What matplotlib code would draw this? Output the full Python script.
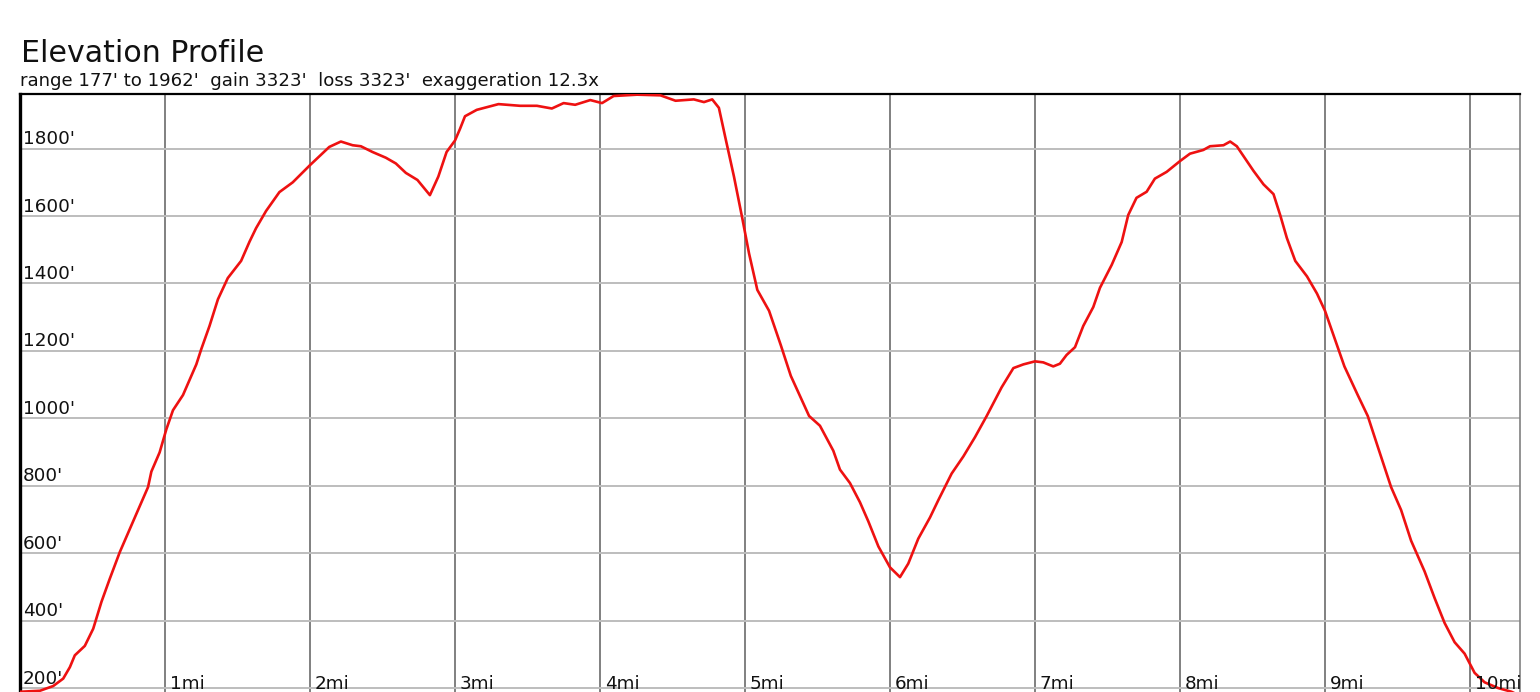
import matplotlib
matplotlib.use("Agg")
import matplotlib.pyplot as plt

# ---- data ----
miles = [0.0, 0.138, 0.229, 0.298, 0.344, 0.378, 0.447, 0.505, 0.562, 0.619,
         0.688, 0.757, 0.803, 0.883, 0.906, 0.963, 1.009, 1.055, 1.124, 1.216,
         1.250, 1.307, 1.365, 1.433, 1.525, 1.583, 1.628, 1.697, 1.789, 1.881,
         2.0, 2.133, 2.213, 2.294, 2.351, 2.431, 2.523, 2.592, 2.661, 2.741,
         2.827, 2.885, 2.942, 3.0, 3.035, 3.069, 3.150, 3.300, 3.449, 3.565,
         3.668, 3.749, 3.829, 3.933, 4.014, 4.094, 4.256, 4.417, 4.521, 4.647,
         4.717, 4.774, 4.820, 4.866, 4.924, 4.982, 5.028, 5.085, 5.166, 5.247,
         5.316, 5.442, 5.517, 5.609, 5.655, 5.724, 5.793, 5.851, 5.920, 6.0,
         6.069, 6.126, 6.195, 6.276, 6.333, 6.425, 6.506, 6.586, 6.667, 6.770,
         6.851, 6.920, 7.0, 7.057, 7.126, 7.172, 7.218, 7.276, 7.333, 7.402,
         7.448, 7.529, 7.598, 7.643, 7.700, 7.770, 7.827, 7.908, 8.0, 8.069,
         8.161, 8.207, 8.300, 8.346, 8.392, 8.507, 8.576, 8.645, 8.691, 8.737,
         8.795, 8.876, 8.945, 9.0, 9.065, 9.134, 9.226, 9.295, 9.364, 9.456,
         9.525, 9.594, 9.687, 9.756, 9.825, 9.894, 9.963, 10.032, 10.101, 10.194,
         10.286, 10.345]

elevation_ft = [189, 192, 206, 228, 262, 297, 325, 376, 456, 524,
                603, 671, 717, 796, 842, 899, 967, 1024, 1069, 1160,
                1205, 1274, 1353, 1416, 1467, 1524, 1564, 1615, 1671, 1700,
                1751, 1805, 1821, 1810, 1807, 1790, 1773, 1756, 1728, 1707,
                1662, 1717, 1790, 1824, 1859, 1896, 1915, 1932, 1927, 1927,
                1919, 1935, 1930, 1944, 1935, 1956, 1960, 1958, 1942, 1946,
                1938, 1946, 1921, 1830, 1717, 1592, 1489, 1381, 1319, 1217,
                1126, 1007, 978, 904, 848, 808, 751, 694, 620, 558,
                529, 569, 643, 706, 757, 836, 887, 944, 1007, 1092,
                1149, 1160, 1169, 1166, 1154, 1162, 1188, 1211, 1274, 1330,
                1387, 1455, 1523, 1603, 1654, 1672, 1711, 1731, 1763, 1785,
                1796, 1807, 1810, 1821, 1807, 1734, 1694, 1665, 1603, 1535,
                1467, 1421, 1370, 1319, 1239, 1154, 1069, 1007, 916, 796,
                728, 637, 546, 467, 393, 336, 302, 245, 217, 200,
                189, 177]

y_ticks = [200, 400, 600, 800, 1000, 1200, 1400, 1600, 1800]
x_ticks = [1, 2, 3, 4, 5, 6, 7, 8, 9, 10]
y_labels = [f"{v}'" for v in y_ticks]
x_labels = [f"{m}mi" for m in x_ticks]
title = "Elevation Profile"
subtitle = "range 177' to 1962'  gain 3323'  loss 3323'  exaggeration 12.3x"
y_min, y_max = 177, 1962
x_max = 10.345

# ---- figure ----
W, H = 1540, 692
fig = plt.figure(figsize=(W / 100, H / 100), dpi=100)
fig.patch.set_facecolor("white")
plt.rcParams['font.family'] = ['DejaVu Sans']

ax = fig.add_axes([20 / W, (H - 695.8) / H, 1500 / W, 601.8 / H])
ax.set_xlim(0, x_max)
ax.set_ylim(y_min, y_max)

ax.set_xticks(x_ticks)
ax.set_yticks(y_ticks)
ax.tick_params(length=0, labelleft=False, labelbottom=False)
ax.xaxis.grid(True, color="#808080", linewidth=1.4)
ax.yaxis.grid(True, color="#bdbdbd", linewidth=1.4)
ax.set_axisbelow(True)

ax.spines['left'].set_color('black')
ax.spines['left'].set_linewidth(2.4)
ax.spines['top'].set_color('black')
ax.spines['top'].set_linewidth(1.6)
ax.spines['right'].set_color('#808080')
ax.spines['right'].set_linewidth(1.2)
ax.spines['bottom'].set_visible(False)

ax.plot(miles, elevation_ft, color="#ee1111", linewidth=1.9, zorder=3,
        solid_joinstyle='round', clip_on=True)

px = 0.72  # points per pixel at dpi 100
for v, lab in zip(y_ticks, y_labels):
    ax.annotate(lab, xy=(0, v), xycoords=('axes fraction', 'data'),
                xytext=(3 * px, 4.5 * px), textcoords='offset points',
                ha='left', va='baseline', fontsize=13.2, color='#111111')
for m, lab in zip(x_ticks, x_labels):
    ax.annotate(lab, xy=(m, 200), xycoords='data',
                xytext=(5 * px, -1 * px), textcoords='offset points',
                ha='left', va='baseline', fontsize=13.2, color='#111111',
                annotation_clip=False)

fig.text(21 / W, 1 - 62 / H, title, fontsize=21.6, ha='left', va='baseline',
         color='#111111')
fig.text(20 / W, 1 - 86 / H, subtitle, fontsize=13.1, ha='left', va='baseline',
         color='#111111')

fig.savefig("out.png", dpi=100)
